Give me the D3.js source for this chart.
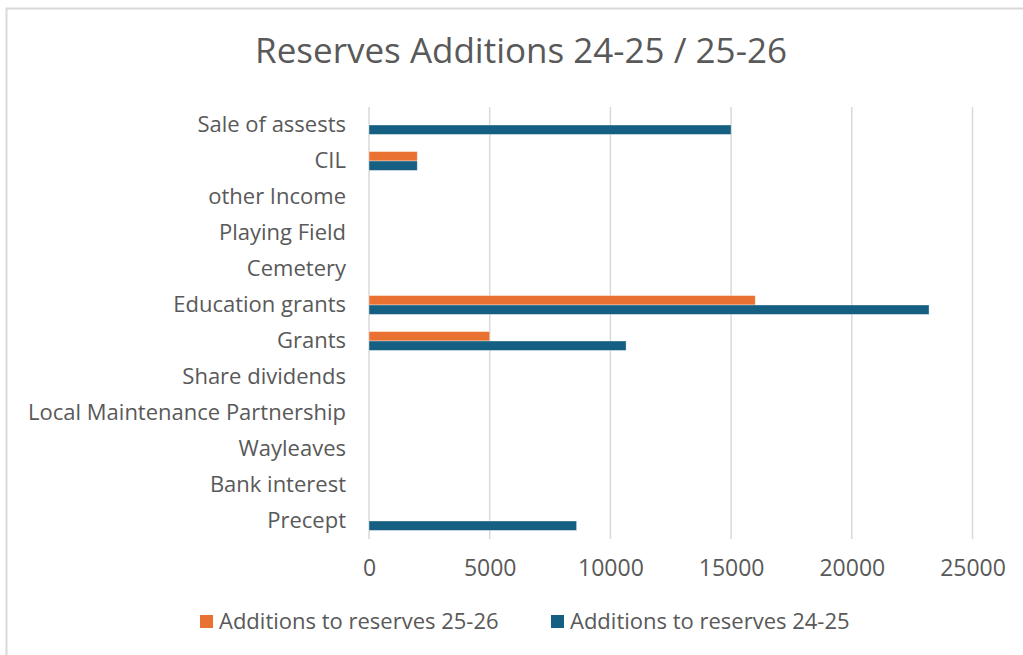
<!DOCTYPE html>
<html>
<head>
<meta charset="utf-8">
<script src="https://cdn.jsdelivr.net/npm/d3@7"></script>
<style>
  html, body { margin: 0; padding: 0; background: #ffffff; }
  svg { display: block; }
  text { font-family: "Open Sans", "Noto Sans", sans-serif; fill: #595959; }
</style>
</head>
<body>
<svg id="chart" width="1023" height="655"></svg>
<script>
// Reserve categories, top to bottom
const categories = [
  "Sale of assests", "CIL", "other Income", "Playing Field ", "Cemetery",
  "Education grants", "Grants", "Share dividends", "Local Maintenance Partnership",
  "Wayleaves", "Bank interest", "Precept"
];
// Additions to reserves 25-26 (orange)
const additions2526 = [0, 2000, 0, 0, 0, 16000, 5000, 0, 0, 0, 0, 0];
// Additions to reserves 24-25 (blue)
const additions2425 = [15000, 2000, 0, 0, 0, 23200, 10650, 0, 0, 0, 0, 8600];
const seriesNames = ["Additions to reserves 25-26", "Additions to reserves 24-25"];
const seriesColors = ["#E97132", "#156082"];
const xTickValues = [0, 5000, 10000, 15000, 20000, 25000];

const svg = d3.select("#chart");

// Chart frame
svg.append("rect")
  .attr("x", 6.5).attr("y", 8.5)
  .attr("width", 1040).attr("height", 680)
  .attr("fill", "#ffffff")
  .attr("stroke", "#d9d9d9").attr("stroke-width", 2);

// Title
svg.append("text")
  .attr("x", 521).attr("y", 63)
  .attr("text-anchor", "middle")
  .style("font-size", "35px")
  .text("Reserves Additions 24-25 / 25-26");

const plot = { left: 369, right: 972.5, top: 107, bottom: 539 };

const x = d3.scaleLinear().domain([0, 25000]).range([plot.left, plot.right]);
const y = d3.scaleBand().domain(categories).range([plot.top, plot.bottom]).padding(0);
const barH = y.bandwidth() / (2 + 1.82);
const sub = d3.scaleBand().domain(seriesNames).range([-barH, barH]).padding(0);

// Vertical gridlines
svg.append("g")
  .selectAll("line")
  .data(xTickValues)
  .join("line")
  .attr("x1", d => x(d)).attr("x2", d => x(d))
  .attr("y1", plot.top).attr("y2", plot.bottom)
  .attr("stroke", "#d9d9d9").attr("stroke-width", 1.5);

// Bars
const rows = categories.map((c, i) => ({
  cat: c,
  vals: [additions2526[i], additions2425[i]]
}));

const groups = svg.append("g")
  .selectAll("g")
  .data(rows)
  .join("g")
  .attr("transform", d => `translate(0,${y(d.cat) + y.bandwidth() / 2})`);

groups.selectAll("rect")
  .data(d => d.vals.map((v, k) => ({ v, k })).filter(e => e.v > 0))
  .join("rect")
  .attr("x", x(0))
  .attr("y", e => sub(seriesNames[e.k]))
  .attr("width", e => x(e.v) - x(0))
  .attr("height", sub.bandwidth())
  .attr("fill", e => seriesColors[e.k])
  .attr("stroke", "#ffffff").attr("stroke-opacity", 0.45).attr("stroke-width", 0.8);

// Category axis
const yAxis = svg.append("g")
  .attr("transform", `translate(${plot.left - 23},0)`)
  .call(d3.axisLeft(y).tickSize(0).tickPadding(0));
yAxis.select(".domain").remove();
yAxis.selectAll("text")
  .style("font-size", "22px")
  .style("font-family", "\"Open Sans\", sans-serif")
  .attr("fill", "#595959");

// Value axis
const xAxis = svg.append("g")
  .attr("transform", `translate(0,${plot.bottom})`)
  .call(d3.axisBottom(x).tickValues(xTickValues).tickFormat(d3.format("d")).tickSize(0).tickPadding(21));
xAxis.select(".domain").remove();
xAxis.selectAll("text")
  .style("font-size", "23px")
  .style("font-family", "\"Open Sans\", sans-serif")
  .attr("fill", "#595959");

// Legend
const legendItems = [
  { name: seriesNames[0], color: seriesColors[0], x: 200 },
  { name: seriesNames[1], color: seriesColors[1], x: 551 }
];
const lg = svg.append("g")
  .selectAll("g")
  .data(legendItems)
  .join("g")
  .attr("transform", d => `translate(${d.x},615)`);
lg.append("rect")
  .attr("width", 13).attr("height", 13)
  .attr("fill", d => d.color);
lg.append("text")
  .attr("x", 19).attr("y", 6.5).attr("dy", "0.35em")
  .style("font-size", "22px")
  .text(d => d.name);
</script>
</body>
</html>
